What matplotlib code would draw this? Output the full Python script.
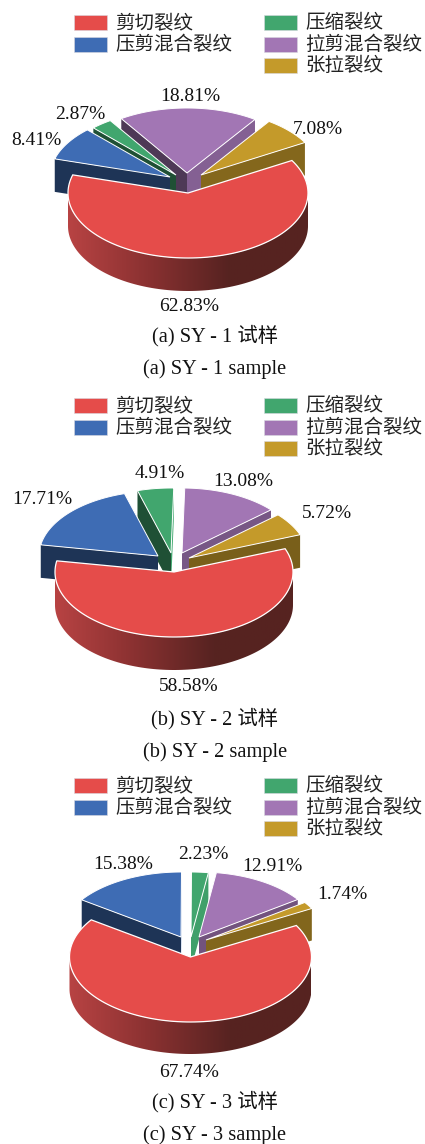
import numpy as np
import matplotlib
matplotlib.use('Agg')
import matplotlib.pyplot as plt
from matplotlib.colors import LinearSegmentedColormap, to_rgb
from matplotlib.patches import Polygon, Rectangle

plt.rcParams['font.family'] = ['Liberation Serif', 'Noto Sans CJK SC']

categories = ['剪切裂纹', '压剪混合裂纹', '压缩裂纹', '拉剪混合裂纹', '张拉裂纹']
shares_a = [62.83, 8.41, 2.87, 18.81, 7.08]
shares_b = [58.58, 17.71, 4.91, 13.08, 5.72]
shares_c = [67.74, 15.38, 2.23, 12.91, 1.74]
captions_a = ['(a) SY - 1 试样', '(a) SY - 1 sample']
captions_b = ['(b) SY - 2 试样', '(b) SY - 2 sample']
captions_c = ['(c) SY - 3 试样', '(c) SY - 3 sample']

colors = ['#e54c4a', '#3e6cb4', '#41a66e', '#a276b4', '#c49a2a']
side_cmap = LinearSegmentedColormap.from_list('side', ['#b84343', '#8a3131', '#572321', '#562320'])

# layout in pixels: pie centre, radii, depth, slice apexes, label centres, row/caption positions
panels = [
    dict(shares=shares_a, captions=captions_a, cx=188, cy=193, rx=120, ry=65, h=33, start=30,
         apex=[(188, 193), (170, 177), (176, 175), (187, 173), (201, 175)],
         labels=[(189, 305), (36, 139), (80, 113), (190, 95), (318, 128)],
         rows=[22, 44, 65], cap_y=[335, 368]),
    dict(shares=shares_b, captions=captions_b, cx=174, cy=572, rx=119, ry=65, h=33, start=21,
         apex=[(174, 572), (158, 556), (171, 553), (182, 553), (189, 558)],
         labels=[(189, 685), (42, 498), (160, 472), (243, 480), (327, 512)],
         rows=[405, 427, 448], cap_y=[718, 751]),
    dict(shares=shares_c, captions=captions_c, cx=190.5, cy=957, rx=121, ry=65, h=32, start=29,
         apex=[(190.5, 957), (181, 937), (191, 937), (199, 937), (206, 940)],
         labels=[(189, 1071), (123, 863), (203, 853), (272, 865), (342, 893)],
         rows=[785, 807, 828], cap_y=[1101, 1134]),
]


def shade(color, factor):
    return tuple(c * factor for c in to_rgb(color))


def wall_factor(normal):
    # walls turned to the right catch more light
    normal = (normal + 180) % 360 - 180
    return max(0.48, 0.5 + 0.0057 * (normal + 90))


def arc(x0, y0, rx, ry, a0, a1):
    t = np.radians(np.linspace(a0, a1, 120))
    return np.column_stack([x0 + rx * np.cos(t), y0 - ry * np.sin(t)])


def draw_wall(ax, apex, corner, h, color, z):
    pts = [apex, corner, (corner[0], corner[1] + h), (apex[0], apex[1] + h)]
    ax.add_patch(Polygon(pts, closed=True, fc=color, ec='none', zorder=z))


def draw_pie(ax, p):
    angles = np.array(p['shares']) * 3.6
    rx, ry, h = p['rx'], p['ry'], p['h']
    # clockwise from the red slice's right edge
    hi = p['start'] + 360
    spans = []
    for a in angles:
        spans.append((hi - a, hi))
        hi -= a

    # back slices first, so nearer ones cover the walls behind them
    order = sorted(range(1, 5), key=lambda i: -np.sin(np.radians(sum(spans[i]) / 2)))
    z = 2
    for i in order:
        lo, up = spans[i]
        ax_, ay_ = p['apex'][i]
        for edge, normal in ((lo, lo - 90), (up, up + 90)):
            if np.sin(np.radians(normal)) < 0:
                corner = arc(ax_, ay_, rx, ry, edge, edge)[0]
                draw_wall(ax, (ax_, ay_), corner, h, shade(colors[i], wall_factor(normal)), z)
        pts = np.vstack([[(ax_, ay_)], arc(ax_, ay_, rx, ry, lo, up)])
        ax.add_patch(Polygon(pts, closed=True, fc=colors[i], ec='white', lw=0.7, zorder=z + 1))
        z += 2

    # red slice: gradient side, then the top face
    cx, cy = p['cx'], p['cy']
    lo, up = spans[0]
    top = arc(cx, cy, rx, ry, 180, 360)
    side = np.vstack([top, arc(cx, cy + h, rx, ry, 360, 180)])
    im = ax.imshow(np.linspace(0, 1, 256)[None, :], cmap=side_cmap, aspect='auto',
                   extent=(cx - rx, cx + rx, cy + ry + h, cy), zorder=z)
    clip = Polygon(side, closed=True, transform=ax.transData, fc='none', ec='none')
    ax.add_patch(clip)
    im.set_clip_path(clip)
    pts = np.vstack([[(cx, cy)], arc(cx, cy, rx, ry, lo, up)])
    ax.add_patch(Polygon(pts, closed=True, fc=colors[0], ec='white', lw=0.9, zorder=z + 1))


def draw_legend(ax, rows):
    # red/blue in the left column, the other three in the right one
    slots = [(74, rows[0]), (74, rows[1]), (264, rows[0]), (264, rows[1]), (264, rows[2])]
    for name, color, (x, y) in zip(categories, colors, slots):
        ax.add_patch(Rectangle((x, y - 7.5), 33, 15, fc=color, ec='#d8d8e0', lw=0.4, zorder=5))
        ax.text(x + 41, y + 1, name, fontsize=14, color='#222222', va='center', ha='left')


fig = plt.figure(figsize=(4.25, 11.44), dpi=100)
ax = fig.add_axes([0, 0, 1, 1])

for p in panels:
    draw_pie(ax, p)
    draw_legend(ax, p['rows'])
    for v, (x, y) in zip(p['shares'], p['labels']):
        ax.text(x, y + 1.5, f'{v:.2f}%', fontsize=14, color='#111111', ha='center', va='center', zorder=30)
    for cap, y in zip(p['captions'], p['cap_y']):
        ax.text(215, y + 1, cap, fontsize=14.7, color='#111111', ha='center', va='center', zorder=30)

ax.set_xlim(0, 425)
ax.set_ylim(1144, 0)
ax.axis('off')
fig.savefig('out.png', dpi=100, facecolor='white')
